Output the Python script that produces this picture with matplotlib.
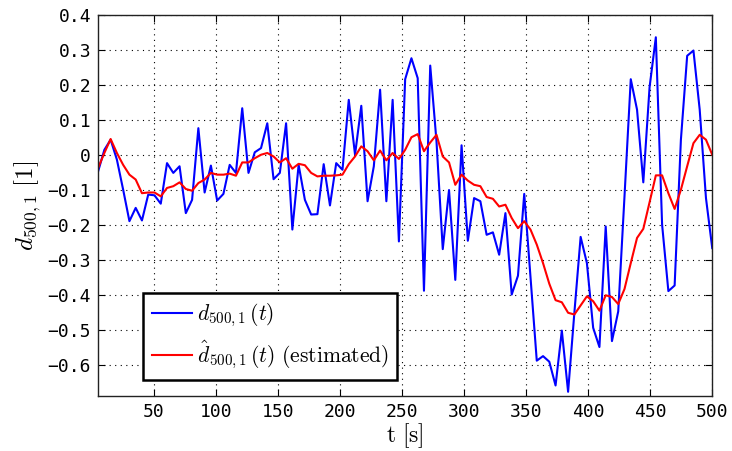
import numpy as np
import matplotlib
matplotlib.use("Agg")
import matplotlib.pyplot as plt

plt.rcParams['mathtext.fontset'] = 'cm'

# time axis (99 samples between 5 s and 500 s)
t = np.linspace(5, 500, 99)

d_meas = [
    -0.048, 0.014, 0.043, -0.014, -0.100, -0.190, -0.152, -0.188, -0.114, -0.116,
    -0.140, -0.024, -0.052, -0.033, -0.167, -0.129, 0.076, -0.108, -0.031, -0.131,
    -0.112, -0.029, -0.052, 0.133, -0.052, 0.007, 0.019, 0.090, -0.070, -0.052,
    0.090, -0.214, -0.029, -0.129, -0.171, -0.170, -0.027, -0.145, -0.024, -0.043,
    0.157, 0.000, 0.140, -0.133, -0.033, 0.186, -0.133, 0.157, -0.248, 0.216,
    0.276, 0.219, -0.389, 0.255, 0.038, -0.270, -0.101, -0.358, 0.027, -0.246,
    -0.124, -0.133, -0.229, -0.222, -0.286, -0.167, -0.400, -0.346, -0.112, -0.350,
    -0.589, -0.576, -0.592, -0.660, -0.503, -0.678, -0.452, -0.235, -0.310, -0.495,
    -0.550, -0.205, -0.533, -0.448, -0.119, 0.216, 0.129, -0.079, 0.193, 0.336,
    -0.200, -0.390, -0.374, 0.043, 0.283, 0.298, 0.129, -0.124, -0.267,
]

d_est = [
    -0.038, 0.005, 0.045, 0.005, -0.029, -0.057, -0.071, -0.110, -0.108, -0.108,
    -0.119, -0.095, -0.090, -0.079, -0.098, -0.103, -0.081, -0.071, -0.052, -0.057,
    -0.057, -0.054, -0.060, -0.022, -0.022, -0.010, 0.000, 0.005, -0.005, -0.022,
    -0.010, -0.040, -0.026, -0.030, -0.052, -0.062, -0.060, -0.060, -0.059, -0.057,
    -0.027, -0.005, 0.024, 0.010, -0.016, 0.012, -0.016, 0.005, -0.012, 0.014,
    0.050, 0.059, 0.010, 0.035, 0.057, -0.005, -0.022, -0.086, -0.057, -0.074,
    -0.086, -0.090, -0.121, -0.126, -0.148, -0.143, -0.181, -0.210, -0.190, -0.214,
    -0.257, -0.310, -0.369, -0.416, -0.422, -0.452, -0.457, -0.431, -0.405, -0.419,
    -0.446, -0.402, -0.407, -0.427, -0.384, -0.310, -0.238, -0.212, -0.136, -0.059,
    -0.059, -0.110, -0.155, -0.100, -0.033, 0.033, 0.057, 0.043, 0.000,
]

xticks = [50, 100, 150, 200, 250, 300, 350, 400, 450, 500]
yticks = [-0.6, -0.5, -0.4, -0.3, -0.2, -0.1, 0, 0.1, 0.2, 0.3, 0.4]
ytick_labels = ['\u22120.6', '\u22120.5', '\u22120.4', '\u22120.3', '\u22120.2',
                '\u22120.1', '0', '0.1', '0.2', '0.3', '0.4']

fig = plt.figure(figsize=(7.32, 4.51), dpi=100)
ax = fig.add_axes([0.134, 0.122, 0.839, 0.845])

ax.plot(t, d_meas, color='#0000ff', lw=1.5, label=r'$d_{\mathbf{500,1}}\,(t)$')
ax.plot(t, d_est, color='#ff0000', lw=1.5,
        label=r'$\hat{d}_{\mathbf{500,1}}\,(t)\ \mathrm{(estimated)}$')

ax.set_xlim(5, 500)
ax.set_ylim(-0.69, 0.4)
ax.set_xticks(xticks)
ax.set_xticklabels([str(v) for v in xticks])
ax.set_yticks(yticks)
ax.set_yticklabels(ytick_labels)

for lab in ax.get_xticklabels() + ax.get_yticklabels():
    lab.set_family('DejaVu Sans Mono')
    lab.set_fontsize(13)

ax.tick_params(direction='in', top=True, right=True, length=5, width=0.8, pad=5)
ax.grid(True, color='black', linestyle=(0, (1, 4)), linewidth=0.8)
for s in ax.spines.values():
    s.set_linewidth(1.0)
    s.set_color('#222222')

ax.set_xlabel(r'$\mathrm{t}\ [\mathrm{s}]$', fontsize=17, labelpad=0)
ax.set_ylabel(r'$d_{\mathbf{500,1}}\ [1]$', fontsize=18, labelpad=3)

leg = ax.legend(loc='lower left', bbox_to_anchor=(0.073, 0.042), borderaxespad=0,
                fontsize=15.5, fancybox=False, framealpha=1, edgecolor='black',
                handlelength=1.9, handletextpad=0.2, borderpad=0.4, labelspacing=0.45)
leg.get_frame().set_linewidth(1.8)

fig.savefig('out.png', dpi=100)
